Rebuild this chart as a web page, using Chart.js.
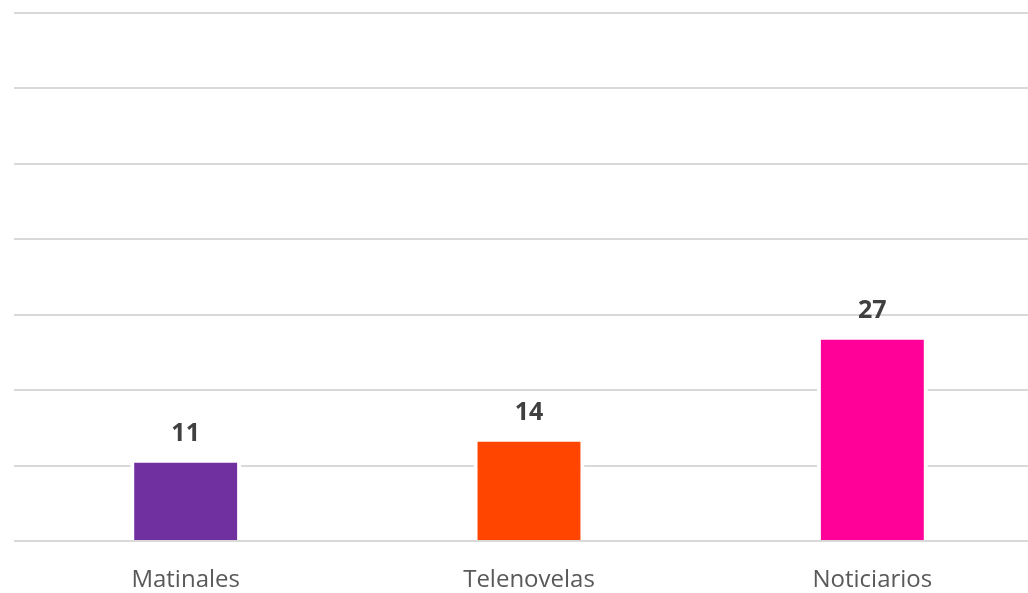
<!DOCTYPE html>
<html>
<head>
<meta charset="utf-8">
<script src="https://cdn.jsdelivr.net/npm/chart.js"></script>
<style>
  html, body { margin: 0; padding: 0; background: #fff; overflow: hidden; }
  #wrap { width: 1045px; height: 593px; position: relative; }
</style>
</head>
<body>
<div id="wrap"><canvas id="myChart"></canvas></div>
<script>
var categories = ['Matinales', 'Telenovelas', 'Noticiarios'];
var values = [10.4, 13.2, 26.7];
var valueLabels = ['11', '14', '27'];
var barColors = ['#7030a0', '#ff4500', '#ff0099'];

// draws the number above each bar
var barLabels = {
  id: 'barLabels',
  afterDatasetsDraw: function(chart){
    var ctx = chart.ctx;
    var meta = chart.getDatasetMeta(0);
    ctx.save();
    ctx.font = 'bold 25px "Open Sans"';
    ctx.fillStyle = '#404040';
    ctx.textAlign = 'center';
    ctx.textBaseline = 'middle';
    meta.data.forEach(function(bar, i){
      ctx.fillText(valueLabels[i], bar.x, bar.y - 29);
    });
    ctx.restore();
  }
};

var myChart = document.getElementById('myChart').getContext('2d');

var chart = new Chart(myChart, {
  type: 'bar',
  data: {
    labels: categories,
    datasets: [{
      data: values,
      backgroundColor: barColors,
      borderColor: '#ffffff',
      borderWidth: {left: 4, right: 4, top: 0, bottom: 0},
      borderSkipped: false,
      barPercentage: 0.323,
      categoryPercentage: 1
    }]
  },
  options: {
    responsive: true,
    maintainAspectRatio: false,
    animation: false,
    layout: { padding: { left: 14, right: 1, top: 13, bottom: 0 } },
    plugins: {
      legend: { display: false },
      tooltip: { enabled: false }
    },
    scales: {
      x: {
        grid: { display: false, drawTicks: false },
        border: { display: false },
        ticks: {
          color: '#595959',
          font: { family: 'Open Sans', size: 24 },
          padding: 25
        },
        afterFit: function(scale){ scale.height = 52; }
      },
      y: {
        min: 0,
        max: 70,
        ticks: { display: false, stepSize: 10 },
        grid: { color: '#d9d9d9', lineWidth: 2, drawTicks: false },
        border: { display: false }
      }
    }
  },
  plugins: [barLabels]
});
</script>
</body>
</html>
